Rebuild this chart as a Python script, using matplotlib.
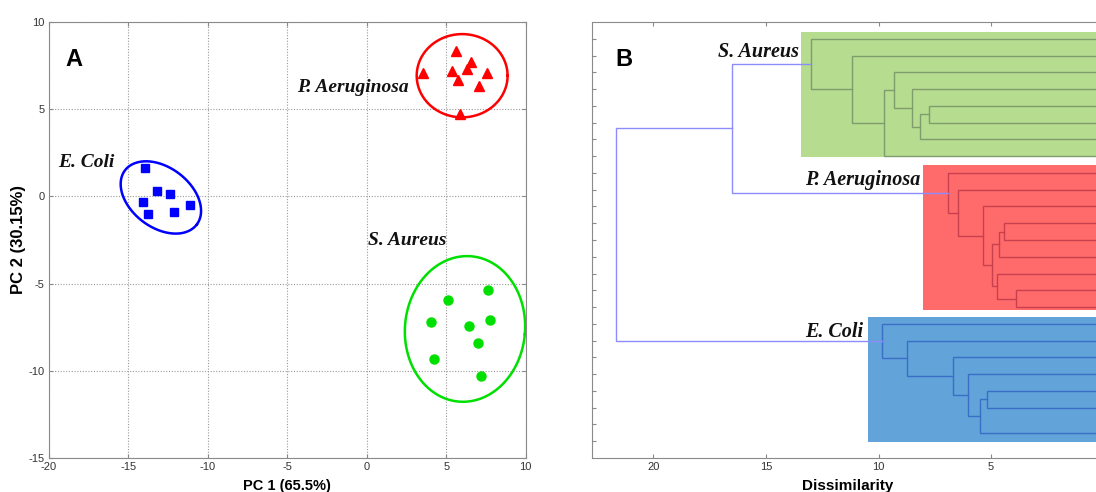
import numpy as np
import matplotlib
matplotlib.use("Agg")
import matplotlib.pyplot as plt
from matplotlib.patches import Rectangle

plt.rcParams['font.family'] = ['Liberation Sans', 'DejaVu Sans']
plt.rcParams['axes.unicode_minus'] = False

# ---------------- Panel A data (PCA scores) ----------------
ecoli_x = [-13.96, -13.22, -12.39, -14.10, -11.13, -13.75, -12.11]
ecoli_y = [1.63, 0.29, 0.14, -0.34, -0.48, -1.01, -0.92]
paer_x = [5.59, 6.54, 6.29, 5.34, 3.52, 7.55, 5.76, 7.08, 5.88]
paer_y = [8.31, 7.68, 7.30, 7.17, 7.07, 7.07, 6.69, 6.31, 4.72]
saur_x = [7.65, 5.13, 4.04, 7.75, 6.41, 7.02, 4.23, 7.17]
saur_y = [-5.35, -5.92, -7.22, -7.07, -7.41, -8.41, -9.31, -10.32]

# ellipses: centre (data), semi-axes (in x-axis units), rotation (deg)
ell_cx = [-12.96, 6.00, 6.18]
ell_cy = [-0.06, 6.92, -7.60]
ell_a = [2.83, 2.86, 3.78]
ell_b = [1.89, 2.62, 4.59]
ell_ang = [-37.0, 0.0, -5.0]

groupsA = ["E. Coli", "P. Aeruginosa", "S. Aureus"]
labelA_x = [-19.41, -4.37, 0.09]
labelA_y = [1.97, 6.22, -2.55]

pc1_label = "PC 1 (65.5%)"
pc2_label = "PC 2 (30.15%)"
xticksA = [-20, -15, -10, -5, 0, 5, 10]
yticksA = [-15, -10, -5, 0, 5, 10]

# ---------------- Panel B data (dendrogram) ----------------
n_leaves = 25
# merges: (child a, child b, height); leaves 0..24 at positions 1..25,
# merge k gets id 25 + k
merge_a = [0, 2, 26, 4, 5, 6, 7,
           13, 32, 9, 10, 33, 14, 15, 16,
           20, 40, 21, 22, 43, 23, 24,
           46, 47]
merge_b = [1, 3, 25, 27, 28, 29, 30,
           12, 11, 8, 34, 35, 36, 37, 38,
           19, 18, 41, 42, 17, 44, 45,
           39, 31]
merge_h = [0.2, 5.19, 5.49, 6.01, 6.68, 8.75, 9.83,
           4.42, 4.65, 3.90, 4.75, 4.97, 5.34, 6.48, 6.90,
           7.74, 8.16, 8.50, 9.31, 9.76, 11.19, 13.01,
           16.49, 21.67]
# cluster membership of each merge (-1 = linking branches)
merge_grp = [0] * 7 + [1] * 8 + [2] * 7 + [-1, -1]

groupsB = ["E. Coli", "P. Aeruginosa", "S. Aureus"]
rect_left = [10.45, 8.01, 13.44]
rect_low = [0.97, 8.82, 17.93]
rect_high = [8.43, 17.47, 25.38]
labelB_x = [10.68, 8.15, 13.53]
labelB_y = [7.24, 16.28, 23.91]
xticksB = [20, 15, 10, 5]

# ---------------- styling ----------------
colA = ['#0000ff', '#ff0000', '#00e000']
rect_col = ['#62a3d9', '#ff6b6b', '#b6dc90']
line_col = ['#3a6fc8', '#c8404e', '#7f9d6c']
link_col = '#8c8cff'
spine_col = '#8a8a8a'
tick_col = '#333333'
ital = dict(family=['Liberation Serif', 'DejaVu Serif'], style='italic',
            weight='bold')

fig = plt.figure(figsize=(10.96, 4.92), dpi=100)
axA = fig.add_axes([49 / 1096, 34 / 492, 476.7 / 1096, 436 / 492])
axB = fig.add_axes([592 / 1096, 34 / 492, 511.6 / 1096, 436 / 492])

# ---- Panel A ----
axA.set_xlim(-20, 10)
axA.set_ylim(-15, 10)
axA.set_xticks(xticksA)
axA.set_yticks(yticksA)
axA.grid(True, linestyle=(0, (1, 1.5)), color='#9a9a9a', linewidth=0.8)
axA.set_axisbelow(True)
for s in axA.spines.values():
    s.set_color(spine_col)
axA.tick_params(direction='in', length=3, colors=spine_col, labelcolor=tick_col,
                labelsize=8, top=True, right=True, pad=3)

pos = axA.get_position()
sx = 1096 * pos.width / 30.0
sy = 492 * pos.height / 25.0
t = np.linspace(0, 2 * np.pi, 300)
for cx, cy, a, b, ang, c in zip(ell_cx, ell_cy, ell_a, ell_b, ell_ang, colA):
    th = np.deg2rad(ang)
    dx = a * np.cos(t) * np.cos(th) - b * np.sin(t) * np.sin(th)
    dy = a * np.cos(t) * np.sin(th) + b * np.sin(t) * np.cos(th)
    axA.plot(cx + dx, cy + dy * sx / sy, color=c, linewidth=1.8, zorder=3)

axA.plot(ecoli_x, ecoli_y, 's', color=colA[0], markersize=6, zorder=4, linestyle='none')
axA.plot(paer_x, paer_y, '^', color=colA[1], markersize=6.5, zorder=4, linestyle='none')
axA.plot(saur_x, saur_y, 'o', color=colA[2], markersize=6.5, zorder=4, linestyle='none')

for g, x, y in zip(groupsA, labelA_x, labelA_y):
    axA.text(x, y, g, fontsize=14, ha='left', va='center', color='#111111', **ital)

axA.text(-18.99, 7.45, "A", fontsize=17, fontweight='bold', ha='left',
         va='baseline', color='black')
axA.set_xlabel(pc1_label, fontsize=10.5, fontweight='bold', labelpad=5)
axA.set_ylabel(pc2_label, fontsize=12, fontweight='bold', labelpad=2)

# ---- Panel B ----
axB.set_xlim(22.73, 0)
axB.set_ylim(0, 26)
axB.set_xticks(xticksB)
axB.set_yticks(np.arange(1, n_leaves + 1))
axB.set_yticklabels([])
for s in axB.spines.values():
    s.set_color(spine_col)
axB.tick_params(direction='in', length=3, colors=spine_col, labelcolor=tick_col,
                labelsize=8, top=True, right=True, pad=3)
axB.set_xlabel("Dissimilarity", fontsize=11, fontweight='bold', labelpad=5)

for xl, lo, hi, c in zip(rect_left, rect_low, rect_high, rect_col):
    axB.add_patch(Rectangle((0, lo), xl, hi - lo, facecolor=c, edgecolor='none',
                            zorder=1))

node_y = {i: float(i + 1) for i in range(n_leaves)}
node_h = {i: 0.0 for i in range(n_leaves)}
for k, (a, b, h, g) in enumerate(zip(merge_a, merge_b, merge_h, merge_grp)):
    nid = n_leaves + k
    ya, yb = node_y[a], node_y[b]
    node_y[nid] = (ya + yb) / 2.0
    node_h[nid] = h
    c = line_col[g] if g >= 0 else link_col
    axB.plot([node_h[a], h, h, node_h[b]], [ya, ya, yb, yb], color=c,
             linewidth=1.0, zorder=2, solid_joinstyle='miter')

for g, x, y in zip(groupsB, labelB_x, labelB_y):
    axB.text(x, y, g, fontsize=14.5, ha='right', va='baseline', color='#111111',
             zorder=5, **ital)

axB.text(21.71, 23.37, "B", fontsize=17, fontweight='bold', ha='left',
         va='baseline', color='black')

fig.savefig("out.png", dpi=100)
